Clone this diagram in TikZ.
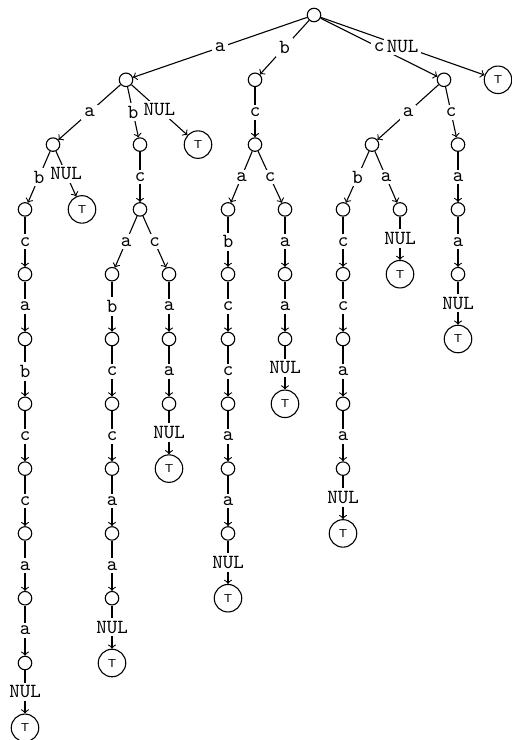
\documentclass[tikz,border=0pt]{standalone}
\usepackage{tikz}
\usetikzlibrary{arrows}
\tikzset{st/.style = {draw, circle, minimum size=6.75pt, inner sep=0pt}}
\tikzset{fin/.style = {draw, circle, minimum size=13.75pt, inner sep=0pt,
                       font=\fontsize{5.8}{6}\sffamily}}
\tikzset{lbl/.style = {fill=white, inner sep=1.5pt, font=\ttfamily}}

\begin{document}
\begin{tikzpicture}[x=0.5pt, y=-32.4pt, line width=0.55pt]
      \useasboundingbox (0, -0.2315) rectangle (511, 11.188);
      % states
      \foreach \n/\x/\y in {r/314/0,
                            a/126/1, b/255/1, c/444/1,
                            aa/53/2, ab/140/2, bc/255/2, ca/372/2, cc/458/2,
                            aab/25/3, abc/140/3, bca/228/3, bcc/285/3, cab/343/3, caa/400/3, cca/458/3,
                            aabc/25/4, abca/112/4, abcc/169/4, bcab/228/4, bcca/285/4, cabc/343/4, ccaa/458/4,
                            aabca/25/5, abcab/112/5, abcca/169/5, bcabc/228/5, bccaa/285/5, cabcc/343/5,
                            aabcab/25/6, abcabc/112/6, abccaa/169/6, bcabcc/228/6, cabcca/343/6,
                            aabcabc/25/7, abcabcc/112/7, bcabcca/228/7, cabccaa/343/7,
                            aabcabcc/25/8, abcabcca/112/8, bcabccaa/228/8,
                            aabcabcca/25/9, abcabccaa/112/9,
                            aabcabccaa/25/10}
        \node[st] (\n) at (\x, \y) {};
      % terminals
      \foreach \n/\x/\y in {rT/498/1, aT/198/2, aaT/82/3, caaT/400/4, ccaaT/458/5,
                            bccaaT/285/6, abccaaT/169/7, cabccaaT/343/8,
                            bcabccaaT/228/9, abcabccaaT/112/10, aabcabccaaT/25/11}
        \node[fin] (\n) at (\x, \y) {T};
      % transitions
      \foreach \src/\dst/\sym in {r/a/a, r/b/b, r/c/c, r/rT/NUL,
                                  a/aa/a, a/ab/b, a/aT/NUL, b/bc/c, c/ca/a, c/cc/c,
                                  aa/aab/b, aa/aaT/NUL, ab/abc/c,
                                  bc/bca/a, bc/bcc/c, ca/cab/b, ca/caa/a, cc/cca/a,
                                  aab/aabc/c, aabc/aabca/a, aabca/aabcab/b, aabcab/aabcabc/c,
                                  aabcabc/aabcabcc/c, aabcabcc/aabcabcca/a,
                                  aabcabcca/aabcabccaa/a, aabcabccaa/aabcabccaaT/NUL,
                                  abc/abca/a, abc/abcc/c,
                                  abca/abcab/b, abcab/abcabc/c, abcabc/abcabcc/c,
                                  abcabcc/abcabcca/a, abcabcca/abcabccaa/a, abcabccaa/abcabccaaT/NUL,
                                  abcc/abcca/a, abcca/abccaa/a, abccaa/abccaaT/NUL,
                                  bca/bcab/b, bcab/bcabc/c, bcabc/bcabcc/c, bcabcc/bcabcca/a,
                                  bcabcca/bcabccaa/a, bcabccaa/bcabccaaT/NUL,
                                  bcc/bcca/a, bcca/bccaa/a, bccaa/bccaaT/NUL,
                                  cab/cabc/c, cabc/cabcc/c, cabcc/cabcca/a, cabcca/cabccaa/a,
                                  cabccaa/cabccaaT/NUL,
                                  caa/caaT/NUL, cca/ccaa/a, ccaa/ccaaT/NUL}
        \draw[->] (\src) -- node[lbl] {\sym} (\dst);
\end{tikzpicture}
\end{document}
